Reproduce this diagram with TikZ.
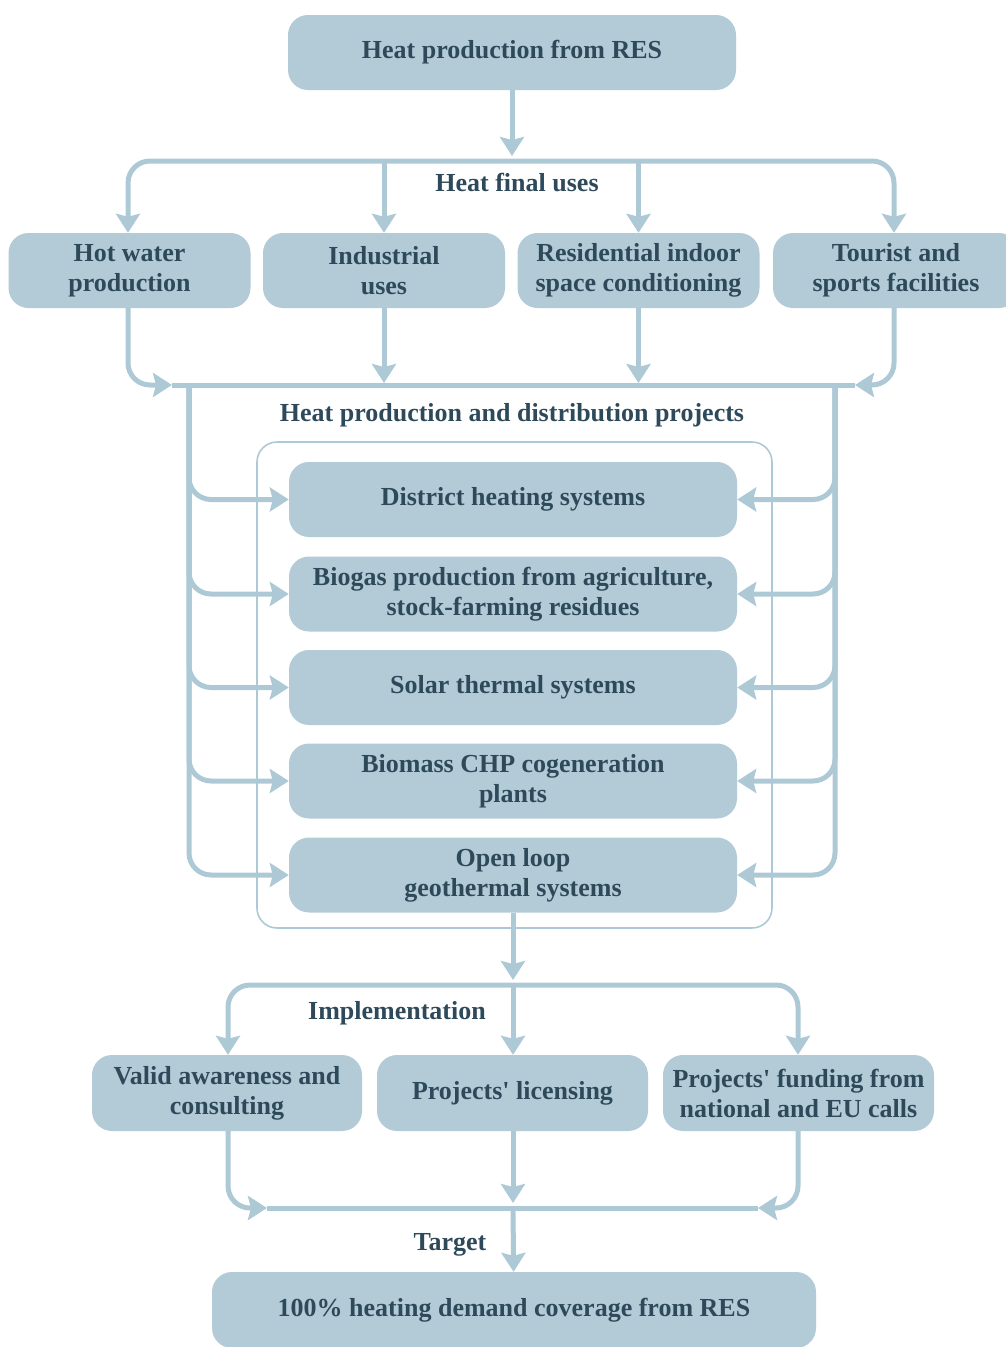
\documentclass[tikz,border=0pt]{standalone}
\usepackage{fontspec}
\setmainfont{Liberation Serif}
\usetikzlibrary{arrows.meta}
\definecolor{boxfill}{RGB}{179,203,215}
\definecolor{linec}{RGB}{174,201,214}
\definecolor{txt}{RGB}{46,74,90}
\tikzset{
  box/.style={rounded corners=20pt, fill=boxfill, draw=none, text=txt, align=center,
    font=\bfseries\fontsize{26}{30}\selectfont, inner sep=0pt},
  lbl/.style={text=txt, font=\bfseries\fontsize{26}{30}\selectfont, inner sep=0pt},
  wire/.style={draw=linec, line width=5pt, rounded corners=22pt},
  arr/.style={wire, -{Stealth[width=24pt,length=19pt,inset=3pt]}},
  frame/.style={draw=linec, line width=1.6pt, rounded corners=20pt, minimum width=515pt, minimum height=486pt},
}
\begin{document}
\begin{tikzpicture}[x=1pt,y=-1pt]
\useasboundingbox (0,0) rectangle (1006,1347);

% source
\node[box, minimum width=448pt, minimum height=75pt] (src) at (512,52.5) {Heat production from RES};

% final uses
\node[box, minimum width=242pt, minimum height=75pt] (hw)   at (129.5,270.5) {Hot water\\production};
\node[box, minimum width=242pt, minimum height=75pt] (ind)  at (384,270.5)   {Industrial\\uses};
\node[box, minimum width=242pt, minimum height=75pt] (resi) at (638.5,270.5) {Residential indoor\\space conditioning};
\node[box, minimum width=246pt, minimum height=75pt] (tour) at (896,270.5)   {Tourist and\\sports facilities};

\coordinate (topbus) at (512,161);
\node[lbl] (usesl) at (517,183) {Heat final uses};

\draw[arr] (src) -- (512,156);
\draw[arr] (topbus) -| (hw.north -| 128,0);
\draw[arr] (topbus) -| (tour.north -| 894,0);
\draw[arr] (topbus -| ind) -- (ind);
\draw[arr] (topbus -| resi) -- (resi);

% collecting bus
\coordinate (mbL) at (172,385);
\coordinate (mbR) at (855,385);
\coordinate (lv) at (189,385);
\coordinate (rv) at (835,385);
\draw[wire] (mbL) -- (mbR);
\draw[arr] (hw.south -| 128,0) |- (mbL);
\draw[arr] (tour.south -| 894,0) |- (mbR);
\draw[arr] (ind) -- (ind |- 0,383);
\draw[arr] (resi) -- (resi |- 0,383);

\node[lbl] (projl) at (512,415) {Heat production and distribution projects};

% projects
\node[frame] (grp) at (514.5,685) {};
\node[box, minimum width=448pt, minimum height=75pt] (dh)  at (513,499.5) {District heating systems};
\node[box, minimum width=448pt, minimum height=75pt] (bio) at (513,594)   {Biogas production from agriculture,\\stock-farming residues};
\node[box, minimum width=448pt, minimum height=75pt] (sol) at (513,687.5) {Solar thermal systems};
\node[box, minimum width=448pt, minimum height=75pt] (chp) at (513,781)   {Biomass CHP cogeneration\\plants};
\node[box, minimum width=448pt, minimum height=75pt] (geo) at (513,875)   {Open loop\\geothermal systems};

\foreach \p in {dh,bio,sol,chp,geo}{
  \draw[arr] (lv) |- (\p.west);
  \draw[arr] (rv) |- (\p.east);
}

% implementation
\coordinate (ibus) at (513,985);
\node[lbl] (impl) at (397,1013) {Implementation};
\node[box, minimum width=270pt, minimum height=76pt] (val)  at (227,1093) {Valid awareness and\\consulting};
\node[box, minimum width=271pt, minimum height=76pt] (lic)  at (512.5,1093) {Projects\textquotesingle{} licensing};
\node[box, minimum width=271pt, minimum height=76pt] (fund) at (798.5,1093) {Projects\textquotesingle{} funding from\\national and EU calls};

\draw[arr] (geo) -- (513,980);
\draw[arr] (ibus) -| (val.north -| 228,0);
\draw[arr] (ibus) -| (fund.north -| 798,0);
\draw[arr] (ibus) -- (lic.north -| 513,0);

% target
\coordinate (bL) at (267,1208);
\coordinate (bR) at (758,1208);
\coordinate (bmid) at (513,1208);
\draw[wire] (bL) -- (bR);
\draw[arr] (val.south -| 228,0) |- (bL);
\draw[arr] (fund.south -| 798,0) |- (bR);
\draw[arr] (lic.south -| 513,0) -- (513,1203);
\node[lbl] (tgt) at (450,1245) {Target};
\node[box, minimum width=604pt, minimum height=76pt] (goal) at (514,1310) {100\% heating demand coverage from RES};
\draw[arr] (bmid) -- (goal);
\end{tikzpicture}
\end{document}
